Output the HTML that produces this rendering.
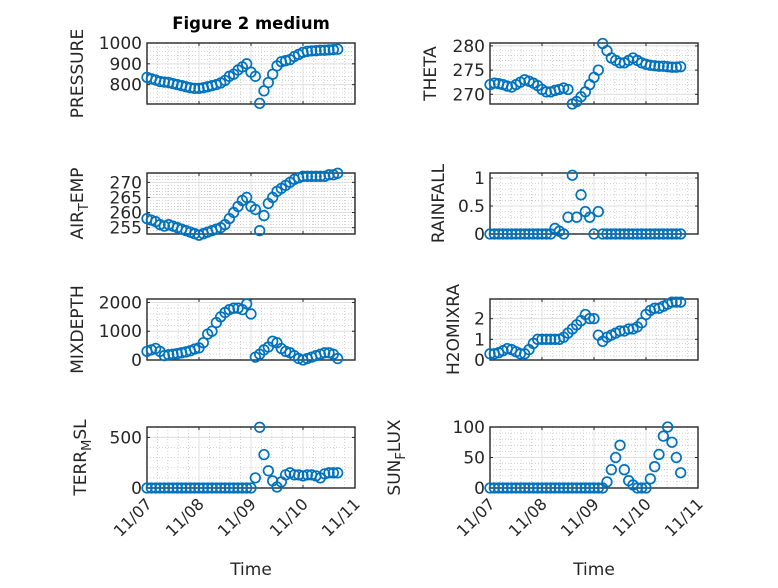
<!DOCTYPE html>
<html><head><meta charset="utf-8"><style>
html,body{margin:0;padding:0;background:#fff;}
svg text{font-family:"DejaVu Sans","Liberation Sans",sans-serif;fill:#262626;}
</style></head><body>
<svg id="fig" width="778" height="583" viewBox="0 0 778 583" xmlns="http://www.w3.org/2000/svg">
<rect width="778" height="583" fill="#fff"/>
<text x="251" y="29" text-anchor="middle" font-size="16.5" font-weight="bold" style="fill:#000">Figure 2 medium</text>
</svg>
<script>
const timeHours = [0,2,4,6,8,10,12,14,16,18,20,22,24,26,28,30,32,34,36,38,40,42,44,46,48,50,52,54,56,58,60,62,64,66,68,70,72,74,76,78,80,82,84,86,88];
const xTickLabels = ["11/07","11/08","11/09","11/10","11/11"];
const pressure = [835,828,822,815,812,810,805,800,795,790,785,782, 782,785,790,795,800,808,820,840,850,870,885,900, 860,840,710,770,810,850,890,910,915,920,935,945,955,960,962,963,965,965,967,968,970];
const airTemp = [258,257.5,257,256,255.5,256,255.5,255,254.5,254,253.5,253, 252.5,253,253.5,254,254.5,255,256,258,260,262,264,265, 262,261,254,259,263,265,267,268,269,270,271,271.5,272,272,272,272,272,272,272.5,272.5,273];
const mixDepth = [300,350,400,300,150,180,200,220,250,280,320,380, 420,600,900,1000,1300,1500,1650,1750,1800,1800,1750,1950, 1600,100,200,350,450,650,600,400,300,250,150,50,0,50,100,150,200,250,250,200,50];
const terrMsl = [0,0,0,0,0,0,0,0,0,0,0,0, 0,0,0,0,0,0,0,0,0,0,0,0, 0,100,600,330,170,70,10,60,130,150,130,130,120,130,130,120,100,140,150,150,150];
const theta = [272,272.3,272.2,272,271.7,271.5,272,272.5,273,272.7,272.3,271.8, 271,270.5,270.5,270.8,271,271.3,271,268,268.5,269.5,270.5,272, 273.5,275,280.5,279,277.5,277,276.5,276.5,277,277.5,277,276.5,276.2,276,275.9,275.8,275.8,275.7,275.6,275.6,275.7];
const rainfall = [0,0,0,0,0,0,0,0,0,0,0,0, 0,0,0,0.1,0.05,0,0.3,1.05,0.3,0.7,0.4,0.3, 0,0.4,0,0,0,0,0,0,0,0,0,0,0,0,0,0,0,0,0,0,0];
const h2oMix = [0.3,0.3,0.35,0.45,0.55,0.5,0.4,0.3,0.3,0.5,0.8,1.0, 1.0,1.0,1.0,1.0,1.0,1.1,1.3,1.5,1.7,1.9,2.2,2.0, 2.0,1.2,0.9,1.1,1.2,1.3,1.4,1.4,1.5,1.5,1.6,1.8,2.2,2.4,2.5,2.5,2.6,2.7,2.8,2.8,2.8];
const sunFlux = [0,0,0,0,0,0,0,0,0,0,0,0, 0,0,0,0,0,0,0,0,0,0,0,0, 0,0,0,10,30,50,70,30,12,5,0,0,0,15,35,55,85,100,75,50,25];

const NS='http://www.w3.org/2000/svg';
const svg=document.getElementById('fig');
function mk(tag,attrs,parent){const e=document.createElementNS(NS,tag);for(const k in attrs)e.setAttribute(k,attrs[k]);(parent||svg).appendChild(e);return e;}

const panels=[
 {name:'pressure',vals:pressure,x0:147,y0:43,ymin:707,ymax:1000,ticks:[800,900,1000],minor:20,label:['PRESSURE'],lx:77,bottom:false},
 {name:'air-temp',vals:airTemp,x0:147,y0:173,ymin:252.9,ymax:273.1,ticks:[255,260,265,270],minor:1,label:['AIR','T','EMP'],lx:77,bottom:false},
 {name:'mixdepth',vals:mixDepth,x0:147,y0:299,ymin:0,ymax:2120,ticks:[0,1000,2000],minor:200,label:['MIXDEPTH'],lx:77,bottom:false},
 {name:'terr-msl',vals:terrMsl,x0:147,y0:427,ymin:0,ymax:603,ticks:[0,500],minor:100,label:['TERR','M','SL'],lx:80,bottom:true},
 {name:'theta',vals:theta,x0:490,y0:43,ymin:268,ymax:280.6,ticks:[270,275,280],minor:1,label:['THETA'],lx:430,bottom:false},
 {name:'rainfall',vals:rainfall,x0:490,y0:173,ymin:0,ymax:1.09,ticks:[0,0.5,1],minor:0.1,label:['RAINFALL'],lx:438,bottom:false},
 {name:'h2omixra',vals:h2oMix,x0:490,y0:299,ymin:0,ymax:2.95,ticks:[0,1,2],minor:0.2,label:['H2OMIXRA'],lx:453,bottom:false},
 {name:'sun-flux',vals:sunFlux,x0:490,y0:427,ymin:0,ymax:100,ticks:[0,50,100],minor:10,label:['SUN','F','LUX'],lx:394,bottom:true}
];
const W=208,H=61,DAYS=4;
panels.forEach(p=>{
  const g=mk('g',{});
  
  
  const xs=d=>p.x0+d/DAYS*W;
  const ys=v=>p.y0+H-(v-p.ymin)/(p.ymax-p.ymin)*H;
  mk('rect',{x:p.x0,y:p.y0,width:W,height:H,fill:'#fff'},g);
  for(let d=0;d<=DAYS;d+=0.2){const x=xs(d);if(Math.abs(d-Math.round(d))<1e-6)continue;mk('line',{x1:x,x2:x,y1:p.y0,y2:p.y0+H,stroke:'#c8c8c8','stroke-dasharray':'1,2','stroke-width':0.8},g);}
  for(let v=Math.ceil(p.ymin/p.minor)*p.minor;v<=p.ymax;v+=p.minor){const y=ys(v);mk('line',{x1:p.x0,x2:p.x0+W,y1:y,y2:y,stroke:'#c8c8c8','stroke-dasharray':'1,2','stroke-width':0.8},g);}
  for(let d=1;d<DAYS;d++){const x=xs(d);mk('line',{x1:x,x2:x,y1:p.y0,y2:p.y0+H,stroke:'#e0e0e0','stroke-width':1},g);}
  p.ticks.forEach(v=>{const y=ys(v);mk('line',{x1:p.x0,x2:p.x0+W,y1:y,y2:y,stroke:'#e0e0e0','stroke-width':1},g);
    mk('line',{x1:p.x0,x2:p.x0+3,y1:y,y2:y,stroke:'#262626'},g);mk('line',{x1:p.x0+W,x2:p.x0+W-3,y1:y,y2:y,stroke:'#262626'},g);
    const t=mk('text',{x:p.x0-5,y:y+6,'text-anchor':'end','font-size':17},g);t.textContent=String(v);
    
    });
  for(let d=0;d<=DAYS;d++){const x=xs(d);mk('line',{x1:x,x2:x,y1:p.y0+H,y2:p.y0+H-3,stroke:'#262626'},g);mk('line',{x1:x,x2:x,y1:p.y0,y2:p.y0+3,stroke:'#262626'},g);
    if(p.bottom){const t=mk('text',{x:x+6,y:p.y0+H+17,'text-anchor':'end','font-size':16,transform:`rotate(-45 ${x+6} ${p.y0+H+17})`},g);t.textContent=xTickLabels[d];
      
      }}
  mk('rect',{x:p.x0,y:p.y0,width:W,height:H,fill:'none',stroke:'#262626','stroke-width':1.4},g);
  p.vals.forEach((v,i)=>{const c=mk('circle',{cx:xs(timeHours[i]/24),cy:ys(v),r:4.8,fill:'none',stroke:'#0072BD','stroke-width':1.7},g);
    
    });
  const cy=p.y0+H/2;
  const t=mk('text',{x:p.lx+6,y:cy,'text-anchor':'middle','font-size':17,transform:`rotate(-90 ${p.lx+6} ${cy})`},g);
  
  
  if(p.label.length===1){t.textContent=p.label[0];}
  else{const a=mk('tspan',{},t);a.textContent=p.label[0];const b=mk('tspan',{dy:5,'font-size':13},t);b.textContent=p.label[1];const c=mk('tspan',{dy:-5},t);c.textContent=p.label[2];}
  if(p.bottom){const tt=mk('text',{x:p.x0+W/2,y:575,'text-anchor':'middle','font-size':17},g);tt.textContent='Time';
    
    }
});
</script>
</body></html>
